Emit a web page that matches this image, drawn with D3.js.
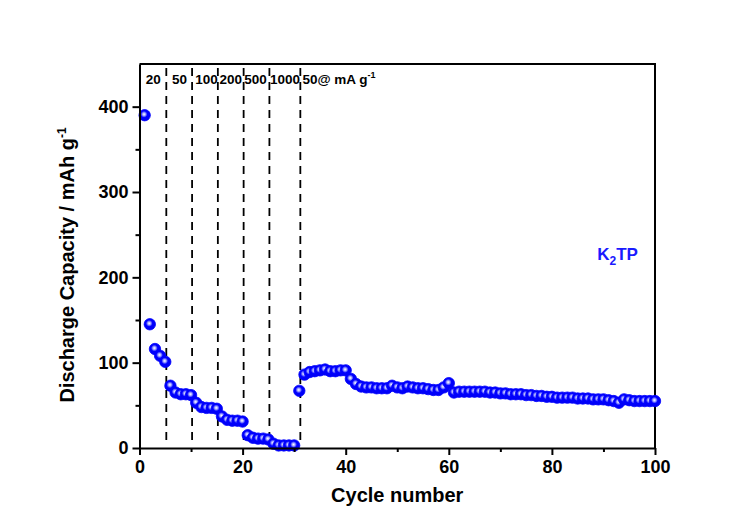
<!DOCTYPE html>
<html>
<head>
<meta charset="utf-8">
<script src="https://cdn.jsdelivr.net/npm/d3@7"></script>
<style>
  body { margin: 0; background: white; }
  text { font-family: Arial, "Liberation Sans", sans-serif; font-weight: bold; }
</style>
</head>
<body>
<script>
const width = 750;
const height = 526;
const margin = { top: 64, right: 95, bottom: 78, left: 139.5 };

// discharge capacity for cycles 1..100
const cycles = d3.range(1, 101);
const capacity = [
  390, 145, 116, 108, 101, 73, 65, 63, 63, 62,
  53, 48, 47, 47, 46, 37, 33, 32, 32, 31,
  15, 12, 11, 11, 10, 5, 3, 3, 3, 3,
  67, 86, 89, 90, 91, 92, 90, 90, 91, 91,
  81, 75, 72, 71, 71, 70, 70, 70, 73, 71,
  70, 72, 71, 70, 70, 69, 68, 68, 71, 76,
  65, 66, 66, 66, 66, 66, 66, 65, 65, 64,
  64, 63, 63, 63, 62, 62, 61, 61, 60, 60,
  59, 59, 59, 59, 58, 58, 58, 57, 57, 57,
  56, 55, 53, 57, 56, 55, 55, 55, 55, 55
];

// rate changes (dashed lines) and the current density labels
const rateBreaks = [5.2, 10.2, 15.2, 20.2, 25.2, 31.2];
const rateLabels = ["20", "50", "100", "200", "500", "1000", "50@ mA g"];
const rateLabelX = [1.2, 6.3, 10.8, 15.5, 20.3, 25.3, 31.6];

const xTicks = [0, 20, 40, 60, 80, 100];
const xMinor = [10, 30, 50, 70, 90];
const yTicks = [0, 100, 200, 300, 400];
const yMinor = [50, 150, 250, 350];

const svg = d3.select("body").append("svg")
  .attr("width", width)
  .attr("height", height);

const x = d3.scaleLinear().domain([0, 100]).range([margin.left, width - margin.right]);
const y = d3.scaleLinear().domain([0, 450]).range([height - margin.bottom, margin.top]);

// sphere-like marker fill
const grad = svg.append("defs").append("radialGradient")
  .attr("id", "ball")
  .attr("cx", "45%").attr("cy", "42%").attr("r", "58%");
grad.append("stop").attr("offset", "0%").attr("stop-color", "#ffffff");
grad.append("stop").attr("offset", "22%").attr("stop-color", "#a8acff");
grad.append("stop").attr("offset", "50%").attr("stop-color", "#0000ff");
grad.append("stop").attr("offset", "100%").attr("stop-color", "#0000f0");

// frame top + right
svg.append("path")
  .attr("d", `M${x(0)},${y(450)}H${x(100)}V${y(0)}`)
  .attr("fill", "none")
  .attr("stroke", "black")
  .attr("stroke-width", 2);

// dashed lines
svg.selectAll(".rate-line")
  .data(rateBreaks)
  .enter()
  .append("line")
  .attr("class", "rate-line")
  .attr("x1", d => x(d))
  .attr("x2", d => x(d))
  .attr("y1", 68)
  .attr("y2", y(9))
  .attr("stroke", "black")
  .attr("stroke-width", 1.8)
  .attr("stroke-dasharray", "8,6");

const labels = svg.selectAll(".rate-label")
  .data(rateLabels)
  .enter()
  .append("text")
  .attr("class", "rate-label")
  .attr("x", (d, i) => x(rateLabelX[i]))
  .attr("y", 84)
  .attr("font-size", "13.5px")
  .text(d => d);

labels.filter((d, i) => i === rateLabels.length - 1)
  .append("tspan")
  .attr("dy", -6)
  .attr("font-size", "9px")
  .text("-1");

// points
svg.selectAll(".dot")
  .data(cycles)
  .enter()
  .append("circle")
  .attr("class", "dot")
  .attr("cx", d => x(d))
  .attr("cy", (d, i) => y(capacity[i]))
  .attr("r", 5.7)
  .attr("fill", "url(#ball)")
  .attr("stroke", "#0000ff")
  .attr("stroke-width", 0.8);

// axes
svg.append("g")
  .attr("transform", `translate(0, ${y(0)})`)
  .call(d3.axisBottom(x).tickValues(xTicks).tickSize(7).tickSizeOuter(0).tickPadding(5));
svg.append("g")
  .attr("transform", `translate(0, ${y(0)})`)
  .call(d3.axisBottom(x).tickValues(xMinor).tickSize(4).tickFormat("").tickSizeOuter(0))
  .select(".domain").remove();

svg.append("g")
  .attr("transform", `translate(${x(0)}, 0)`)
  .call(d3.axisLeft(y).tickValues(yTicks).tickSize(7).tickSizeOuter(0).tickPadding(4));
svg.append("g")
  .attr("transform", `translate(${x(0)}, 0)`)
  .call(d3.axisLeft(y).tickValues(yMinor).tickSize(4).tickFormat("").tickSizeOuter(0))
  .select(".domain").remove();

svg.selectAll(".domain").attr("stroke-width", 2);
svg.selectAll(".tick line").attr("stroke-width", 2);
svg.selectAll(".tick text")
  .attr("font-size", "18px")
  .attr("font-family", "Arial, 'Liberation Sans', sans-serif")
  .attr("font-weight", "bold")
  .attr("fill", "black");

// axis titles
svg.append("text")
  .attr("x", (x(0) + x(100)) / 2)
  .attr("y", 502)
  .attr("text-anchor", "middle")
  .attr("font-size", "20px")
  .text("Cycle number");

const yTitle = svg.append("text")
  .attr("transform", `translate(74, 265) rotate(-90)`)
  .attr("text-anchor", "middle")
  .attr("font-size", "20px")
  .text("Discharge Capacity / mAh g");
yTitle.append("tspan")
  .attr("dy", -8)
  .attr("font-size", "12px")
  .text("-1");

// sample label
const k2tp = svg.append("text")
  .attr("x", x(88.8))
  .attr("y", 260)
  .attr("fill", "#1a1aff")
  .attr("font-size", "17px")
  .text("K");
k2tp.append("tspan").attr("dy", 5).attr("font-size", "12px").text("2");
k2tp.append("tspan").attr("dy", -5).text("TP");
</script>
</body>
</html>
